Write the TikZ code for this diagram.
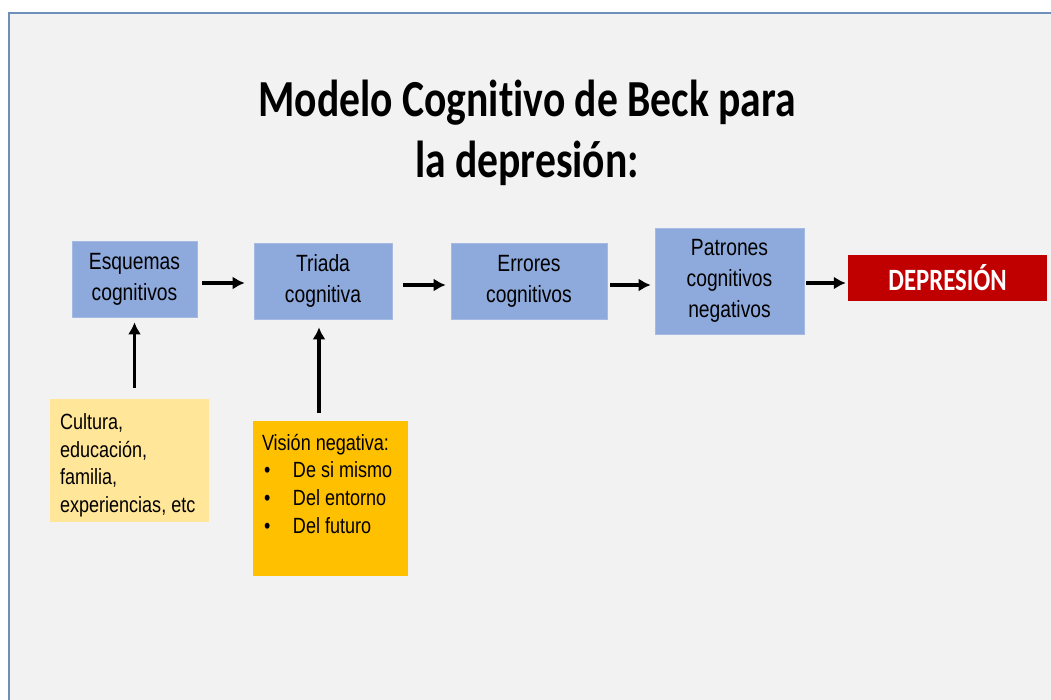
\documentclass[tikz,border=0pt]{standalone}
\usepackage{fontspec}
\setmainfont{Liberation Sans}[FakeStretch=0.82]
\newfontfamily\titlefont{Carlito}[FakeStretch=0.8, Ligatures=CommonOff]
\usepackage{xcolor}
\usepackage{tikz}
\usetikzlibrary{positioning,arrows.meta}

\definecolor{slidebg}{HTML}{F2F2F2}
\definecolor{slideframe}{HTML}{6F8FBB}
\definecolor{stepblue}{HTML}{8EA9DB}
\definecolor{paleyellow}{HTML}{FFE699}
\definecolor{goldbox}{HTML}{FFC000}
\definecolor{darkred}{HTML}{C00000}

\tikzset{
  stepbox/.style={fill=stepblue, draw=stepblue!80!white, line width=0.6pt, align=center,
    inner sep=0pt, font=\fontsize{23.5}{31}\selectfont},
  notebox/.style={inner sep=0pt, font=\fontsize{22}{27.5}\selectfont},
  flow/.style={-{Latex[length=12pt,width=13pt]}, line width=3.6pt},
}

\begin{document}
\begin{tikzpicture}[x=1pt, y=-1pt]
    \useasboundingbox (0,0) rectangle (1051,700);

    % slide background
    \fill[white] (0,0) rectangle (1051,700);
    \fill[slidebg] (9,13) rectangle (1051,700);
    \draw[slideframe, line width=2pt] (9,700) -- (9,13) -- (1051,13);

    % title
    \node[align=center, font=\titlefont\bfseries\fontsize{52}{61}\selectfont] (title) at (527,133)
        {Modelo Cognitivo de Beck para\\la depresión:};

    % chain of boxes
    \node[stepbox, minimum width=125pt, minimum height=76pt] (esq) at (134.5,279) {Esquemas\\cognitivos};
    \node[stepbox, minimum width=138pt, minimum height=76pt] (tri) at (323,281) {Triada\\cognitiva};
    \node[stepbox, minimum width=156pt, minimum height=76pt] (err) at (529,281) {Errores\\cognitivos};
    \node[stepbox, minimum width=149pt, minimum height=106pt] (pat) at (729.5,281) {Patrones\\cognitivos\\negativos};
    \node[fill=darkred, text=white, minimum width=199pt, minimum height=46pt, inner sep=0pt,
        font=\titlefont\bfseries\fontsize{31}{36}\selectfont] (dep) at (947.5,278) {DEPRESIÓN};

    % sources
    \node[notebox, fill=paleyellow, minimum width=159pt, minimum height=123pt] (cult) at (129.5,460.5)
        {\parbox{139pt}{\raggedright\vspace*{10pt}Cultura,\\educación,\\familia,\\experiencias, etc}};
    \node[notebox, fill=goldbox, minimum width=155pt, minimum height=155pt] (vis) at (330.5,498.5)
        {\parbox[c][139pt][t]{137pt}{\raggedright\vspace*{5pt}Visión negativa:\\
         \makebox[31pt][l]{\hspace{2pt}\textbullet}De si mismo\\
         \makebox[31pt][l]{\hspace{2pt}\textbullet}Del entorno\\[1pt]
         \makebox[31pt][l]{\hspace{2pt}\textbullet}Del futuro}};

    % forward arrows
    \draw[flow, shorten <=5pt, shorten >=9pt] (esq.east |- 0,283) -- (tri.west |- 0,283);
    \draw[flow, shorten <=11pt, shorten >=5pt] (tri.east |- 0,285) -- (err.west |- 0,285);
    \draw[flow, shorten <=3pt, shorten >=4pt] (err.east |- 0,285) -- (pat.west |- 0,285);
    \draw[flow, shorten <=2pt, shorten >=2pt] (pat.east |- 0,283) -- (dep.west |- 0,283);

    % arrows from below
    \draw[flow, shorten <=11pt, shorten >=5pt] (cult.north -| esq.south) -- (esq.south);
    \draw[flow, shorten <=8pt, shorten >=8pt] (vis.north -| 319,0) -- (tri.south -| 319,0);
\end{tikzpicture}
\end{document}
